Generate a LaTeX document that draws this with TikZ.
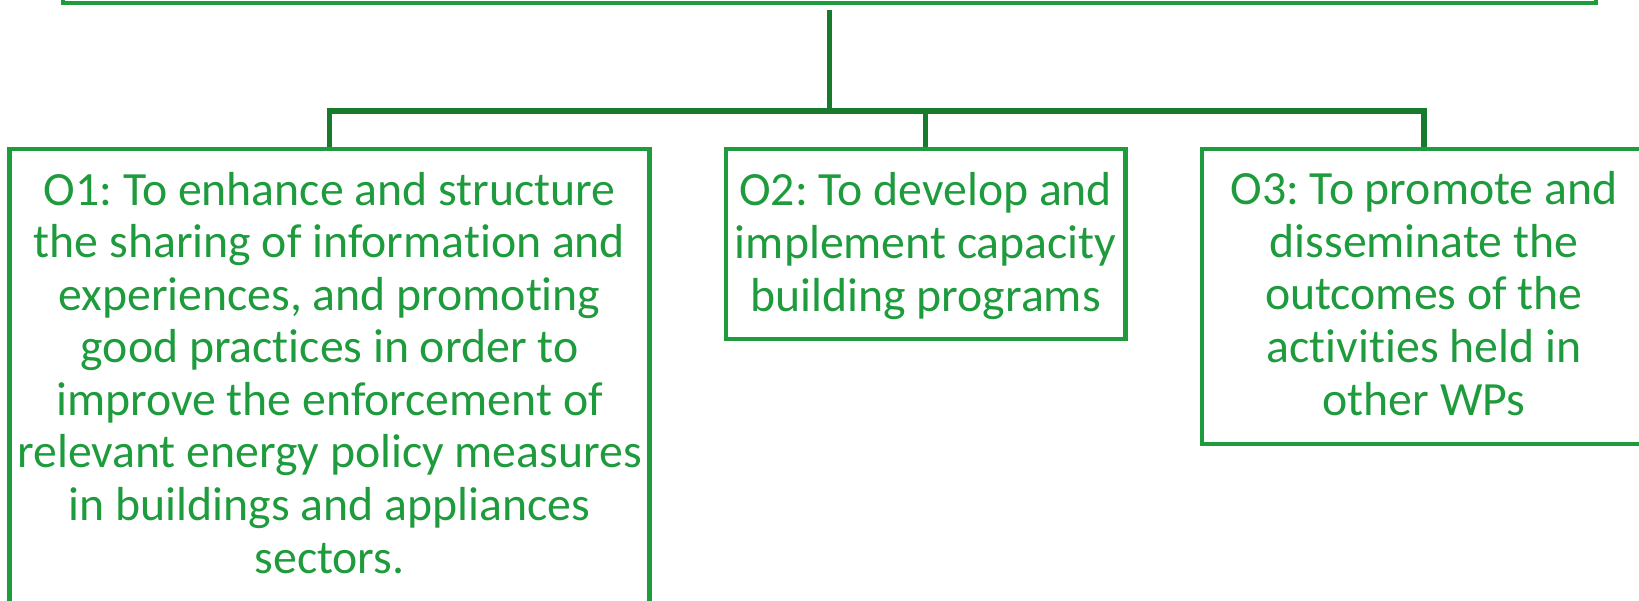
\documentclass[tikz,border=0pt]{standalone}
\usepackage{fontspec}
\setmainfont{Carlito}[Ligatures={NoCommon}]
\frenchspacing
\usetikzlibrary{fit}
\definecolor{boxgreen}{RGB}{30,155,60}
\definecolor{linegreen}{RGB}{24,122,45}
\tikzset{
  box/.style={draw=boxgreen, line width=3.2pt, inner sep=0pt, rectangle},
  conn/.style={draw=linegreen, line width=4.1pt},
  lbl/.style={text=boxgreen, align=center, inner sep=0pt, anchor=base,
    font=\fontsize{35.8pt}{39.4pt}\selectfont\frenchspacing}
}
\begin{document}
\begin{tikzpicture}[x=0.75pt,y=-0.75pt]
\useasboundingbox (0,0) rectangle (1639,600);
% boxes
\node[box, fit={(63,-200) (1596,2.7)}] (top) {};
\node[box, fit={(9.4,148.7) (649.5,640)}] (o1) {};
\node[box, fit={(725.8,148.7) (1125.5,339.2)}] (o2) {};
\node[box, fit={(1202,148.7) (1646,443.8)}] (o3) {};
% texts (anchored at the baseline of the last line)
\node[lbl] (t1) at (329.5,573) {O1: To enhance and structure\\the sharing of information and\\experiences, and promoting\\good practices in order to\\improve the enforcement of\\relevant energy policy measures\\in buildings and appliances\\sectors.};
\node[lbl] (t2) at (925.7,311) {O2: To develop and\\implement capacity\\building programs};
\node[lbl] (t3) at (1424,415) {O3: To promote and\\disseminate the\\outcomes of the\\activities held in\\other WPs};
% connectors
\coordinate (tstart) at (829.5,10);
\coordinate (bus) at (829.5,111);
\draw[conn] (tstart) -- (bus);
\draw[conn] (bus) -| (o1.north);
\draw[conn] (bus) -| (o3.north);
\draw[conn] (bus -| o2.north) -- (o2.north);
\end{tikzpicture}
\end{document}
